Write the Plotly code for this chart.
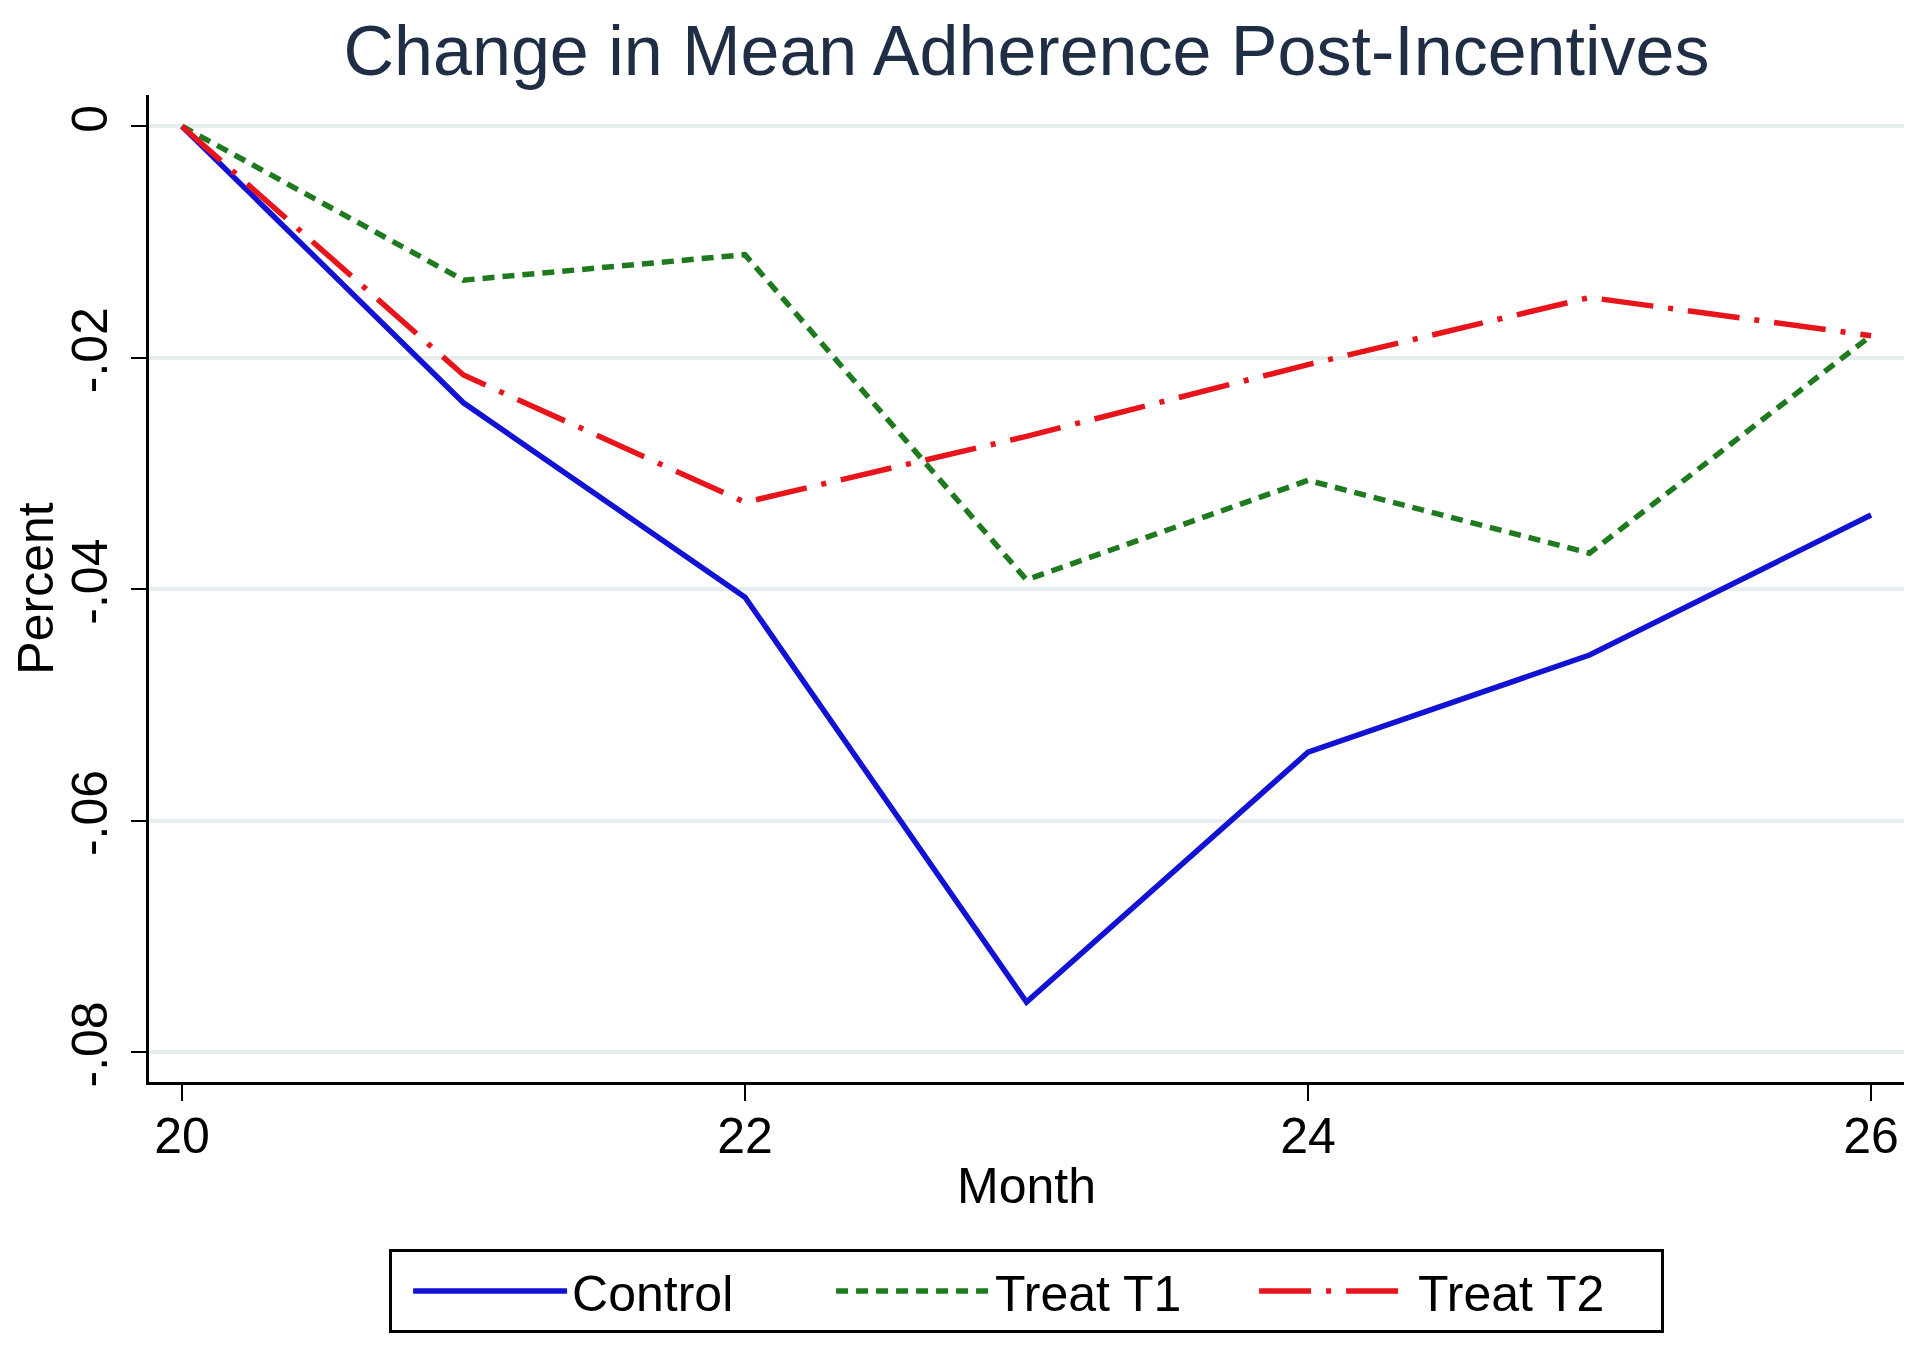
import plotly.graph_objects as go

# ---- data ----
months = [20, 21, 22, 23, 24, 25, 26]
control = [0.0, -0.0239, -0.0407, -0.0757, -0.0541, -0.0457, -0.0336]
treat_t1 = [0.0, -0.0133, -0.0111, -0.0392, -0.0306, -0.0369, -0.0181]
treat_t2 = [0.0, -0.0215, -0.0325, -0.0268, -0.0206, -0.0148, -0.0181]
series_names = ["Control", "Treat T1", "Treat T2"]
x_tickvals = [20, 22, 24, 26]
y_tickvals = [0, -0.02, -0.04, -0.06, -0.08]
y_ticktext = ["0", "-.02", "-.04", "-.06", "-.08"]
title_text = "Change in Mean Adherence Post-Incentives"
x_title = "Month"
y_title = "Percent"

FONT = "Liberation Sans, Arial, Helvetica, sans-serif"
# the page body adds an 8px margin, so the figure is 8px smaller on each side
W, H = 1912, 1346
L, R, T, B = 141, 16, 87, 272

fig = go.Figure()
fig.add_trace(go.Scatter(x=months, y=control, mode="lines", name=series_names[0],
                         line=dict(color="#1212d4", width=5.5, dash="solid")))
fig.add_trace(go.Scatter(x=months, y=treat_t1, mode="lines", name=series_names[1],
                         line=dict(color="#1f7a1f", width=5.5, dash="12px,8px")))
fig.add_trace(go.Scatter(x=months, y=treat_t2, mode="lines", name=series_names[2],
                         line=dict(color="#e8141c", width=5.5, dash="52px,15px,5px,15px")))

fig.update_layout(
    width=W, height=H,
    margin=dict(l=L, r=R, t=T, b=B, autoexpand=False),
    paper_bgcolor="white", plot_bgcolor="white",
    font=dict(family=FONT, size=50, color="black"),
    title=dict(text=title_text, x=0.5, xref="paper", xanchor="center",
               y=1 - 42 / H, yref="container", yanchor="middle",
               font=dict(family=FONT, size=70, color="#1f2d45")),
    showlegend=True,
    legend=dict(orientation="h", x=0.1368, xanchor="left", xref="paper",
                y=-0.1692, yanchor="top", yref="paper",
                bgcolor="white", bordercolor="black", borderwidth=3,
                font=dict(family=FONT, size=50, color="black"),
                itemwidth=154, entrywidth=238, entrywidthmode="pixels",
                indentation=16, itemclick=False),
)

fig.update_xaxes(
    range=[19.883, 26.117], tickvals=x_tickvals,
    ticks="outside", ticklen=16, tickwidth=2, tickcolor="black",
    ticklabelstandoff=-8,
    showline=True, linecolor="black", linewidth=3,
    showgrid=False, zeroline=False,
    tickfont=dict(family=FONT, size=50, color="black"),
    title=dict(text=x_title, font=dict(family=FONT, size=50, color="black"), standoff=5),
)
fig.update_yaxes(
    range=[-0.0826, 0.0027], tickvals=y_tickvals, ticktext=y_ticktext,
    tickangle=-90, ticklabelstandoff=4,
    ticks="outside", ticklen=15, tickwidth=2, tickcolor="black",
    showline=True, linecolor="black", linewidth=3,
    showgrid=True, gridcolor="#e7eef0", gridwidth=4, zeroline=False,
    tickfont=dict(family=FONT, size=50, color="black"),
    title=dict(text=y_title, font=dict(family=FONT, size=50, color="black"), standoff=9),
)

fig.write_html("out.html")
